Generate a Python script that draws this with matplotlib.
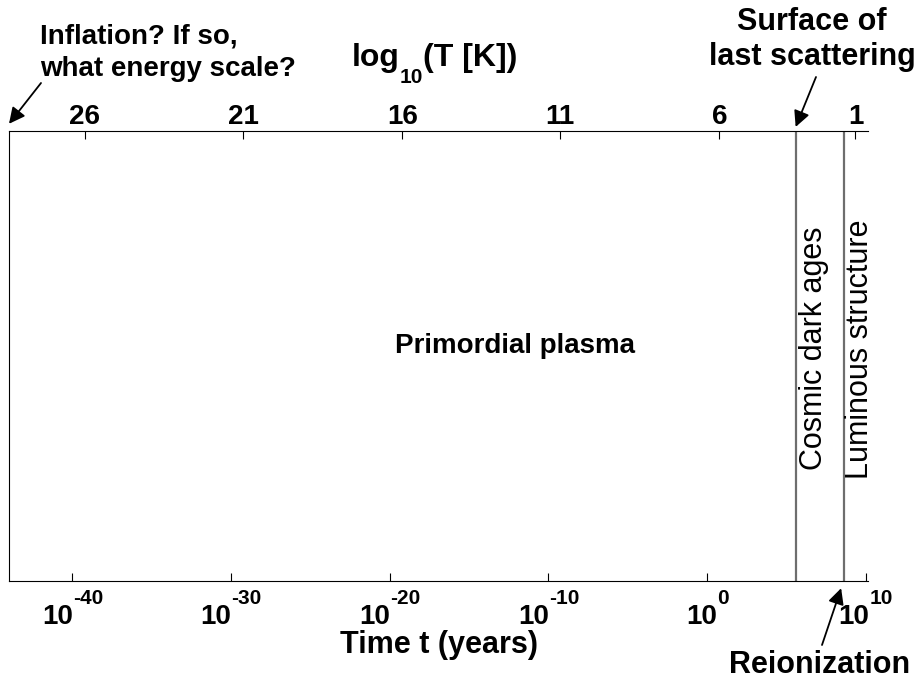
import matplotlib
matplotlib.use('Agg')
import matplotlib.pyplot as plt
from matplotlib.ticker import FixedLocator, NullLocator

plt.rcParams['font.family'] = ['Liberation Sans', 'DejaVu Sans']
plt.rcParams['font.weight'] = 'bold'

# time axis in years, from the Planck era to today
t_start = 1e-44
t_now = 1.38e10
time_ticks = [-40, -30, -20, -10, 0, 10]  # log10(t)

# temperature axis: log10(T [K]) and the log10(t) at which it is reached
temp_labels = [26, 21, 16, 11, 6, 1]
temp_logt = [-39.23, -29.23, -19.2, -9.25, 0.77, 9.35]

# epoch boundaries (years)
t_last_scattering = 3.8e5
t_reionization = 4e8

FS_TICK = 20
FS = 22
W, H = 919, 681


def fx(px):
    return px / W


def fy(py):
    # pixel rows are counted from the top
    return 1 - py / H


fig = plt.figure(figsize=(W / 100, H / 100), dpi=100)
ax = fig.add_axes([fx(9), 100 / H, 859 / W, 450 / H])

ax.set_xscale('log')
ax.set_xlim(t_start, t_now)
ax.set_ylim(0, 1)
ax.set_yticks([])
ax.spines['right'].set_visible(False)
ax.spines['top'].set_visible(False)
ax.xaxis.set_major_locator(FixedLocator([10.0 ** p for p in time_ticks]))
ax.xaxis.set_minor_locator(NullLocator())
ax.set_xticklabels([])
ax.tick_params(axis='x', direction='in', length=6, width=0.8)

# temperature scale along the top
ax2 = ax.twiny()
ax2.set_xscale('log')
ax2.set_xlim(t_start, t_now)
ax2.xaxis.set_major_locator(FixedLocator([10.0 ** v for v in temp_logt]))
ax2.xaxis.set_minor_locator(NullLocator())
ax2.set_xticklabels([str(v) for v in temp_labels])
for s in ['left', 'right', 'bottom']:
    ax2.spines[s].set_visible(False)
ax2.tick_params(axis='x', direction='in', length=6, width=0.8, labelsize=FS_TICK, pad=1)

for sp in ax.spines.values():
    sp.set_linewidth(0.8)
ax2.spines['top'].set_linewidth(0.8)

# epoch boundaries
ax.axvline(t_last_scattering, color='#6e6e6e', lw=1.6)
ax.axvline(t_reionization, color='#6e6e6e', lw=1.6)

# region labels
ax.text(10 ** -19.65, (581 - 353) / 450, 'Primordial plasma', fontsize=20,
        ha='left', va='baseline')
ax.text(10 ** 6.73, 0.518, 'Cosmic dark ages', fontsize=FS, fontweight='normal',
        rotation=90, ha='center', va='center')
ax.text(10 ** 9.62, 0.516, 'Luminous structure', fontsize=FS, fontweight='normal',
        rotation=90, ha='center', va='center')

fig.canvas.draw()
renderer = fig.canvas.get_renderer()


def centered_run(xc, pieces):
    """Lay out (text, size, baseline_px) pieces side by side, centred on xc."""
    texts = [fig.text(0, fy(base), s, fontsize=size, ha='left', va='baseline')
             for s, size, base in pieces]
    widths = [t.get_window_extent(renderer).width for t in texts]
    x = xc - sum(widths) / 2
    for t, w in zip(texts, widths):
        t.set_x(fx(x))
        x += w


# power-of-ten labels under the time axis
for p in time_ticks:
    xd = ax.transData.transform((10.0 ** p, 0.5))[0]
    centered_run(xd, [('10', FS_TICK, 624), (str(p), FS_TICK * 0.75, 604)])

# axis titles
centered_run(435, [('log', 23, 66), ('10', 15, 83), ('(T [K])', 23, 66)])
fig.text(fx(438.5), fy(653), 'Time t (years)', fontsize=FS,
         ha='center', va='baseline')

# callouts
fig.text(fx(40), fy(76), 'Inflation? If so,\nwhat energy scale?', fontsize=20,
         ha='left', va='baseline', linespacing=1.3)
fig.text(fx(812), fy(65), 'Surface of\nlast scattering', fontsize=FS,
         ha='center', va='baseline', multialignment='center', linespacing=1.2)
fig.text(fx(820), fy(680), 'Reionization', fontsize=FS,
         ha='center', va='bottom')

arrow = dict(arrowstyle='-|>', color='k', lw=1.3, mutation_scale=24, shrinkA=0, shrinkB=0)
xt = ax.get_xaxis_transform()
ax.annotate('', xy=(t_start, 1.016), xycoords=xt,
            xytext=(fx(41), fy(83)), textcoords='figure fraction',
            arrowprops=arrow, annotation_clip=False)
ax.annotate('', xy=(t_last_scattering, 1.009), xycoords=xt,
            xytext=(fx(816), fy(77)), textcoords='figure fraction',
            arrowprops=arrow, annotation_clip=False)
ax.annotate('', xy=(t_reionization * 0.7, -0.016), xycoords=xt,
            xytext=(fx(822), fy(645)), textcoords='figure fraction',
            arrowprops=arrow, annotation_clip=False)

fig.savefig('out.png', dpi=100)
